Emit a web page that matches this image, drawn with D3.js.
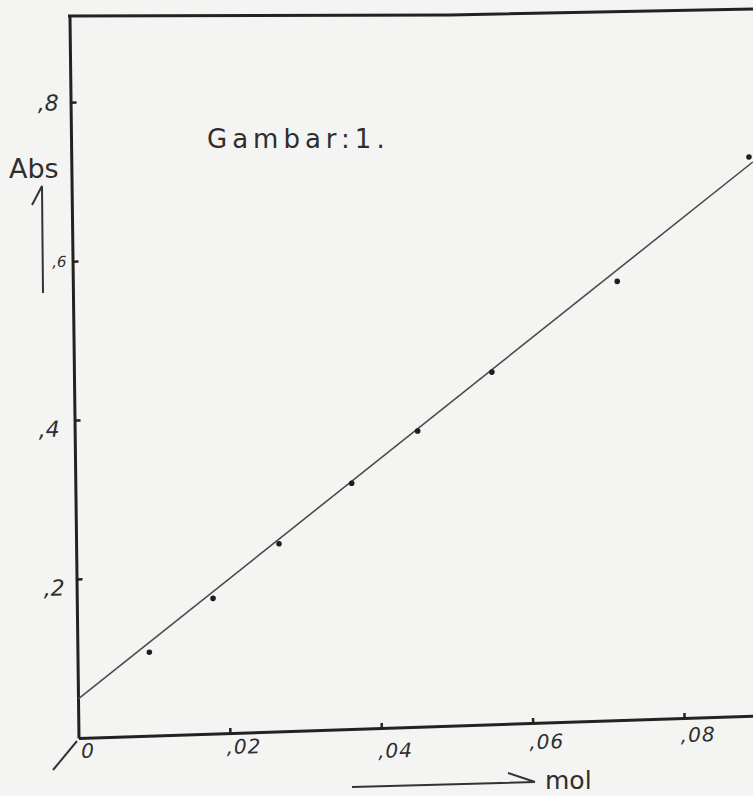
<!DOCTYPE html>
<html>
<head>
<meta charset="utf-8">
<script src="https://cdn.jsdelivr.net/npm/d3@7"></script>
<style>
  html, body { margin: 0; padding: 0; background: #f4f5f2; }
  svg { display: block; }
  text { font-family: "DejaVu Sans", sans-serif; fill: #2e2e2e; }
</style>
</head>
<body>
<div id="chart"></div>
<script>
// measured points (mol vs absorbance)
let molValues = [0.0095, 0.0180, 0.0268, 0.0365, 0.0453, 0.0552, 0.0719, 0.0895];
let absValues = [0.105, 0.170, 0.236, 0.309, 0.372, 0.443, 0.552, 0.703];

// hand drawn calibration line, two end points
let fitMol = [0, 0.090];
let fitAbs = [0.049, 0.6965];

let xTicks = [0, 0.02, 0.04, 0.06, 0.08];
let yTicks = [0.2, 0.4, 0.6, 0.8];

let svgWidth = 753;
let svgHeight = 796;

let svg = d3.select('#chart')
  .append('svg')
  .attr('width', svgWidth)
  .attr('height', svgHeight);

// scanned sheet is a little skewed, so the plot frame is too
let plot = svg.append('g')
  .attr('transform', 'matrix(1,-0.033,0.0125,1,78.5,738)');

let x = d3.scaleLinear().domain([0, 0.0905]).range([0, 685]);
let y = d3.scaleLinear().domain([0, 0.9085]).range([0, -722]);

// handwritten labels sit a bit unevenly under the axis
let xLabelDrop = { 0: 17, 0.02: 18, 0.04: 27, 0.06: 23, 0.08: 21 };

// x axis
let xAxis = d3.axisBottom(x)
  .tickValues(xTicks)
  .tickSize(-5)
  .tickSizeOuter(0)
  .tickFormat(d => d === 0 ? '0' : ',' + d.toFixed(2).slice(2));

let gx = plot.append('g').call(xAxis);
gx.select('.domain').attr('stroke', '#222').attr('stroke-width', 3);
gx.selectAll('.tick line').attr('stroke', '#222').attr('stroke-width', 2.5);
gx.selectAll('.tick text')
  .attr('text-anchor', 'start')
  .attr('dx', d => d === 0 ? 2 : -4)
  .attr('dy', d => xLabelDrop[d])
  .attr('font-size', 20)
  .attr('font-style', 'italic')
  .attr('letter-spacing', 1)
  .attr('fill', '#333');
gx.selectAll('.tick').filter(d => d === 0).select('line').remove();

// y axis
let yAxis = d3.axisLeft(y)
  .tickValues(yTicks)
  .tickSize(-6)
  .tickSizeOuter(0)
  .tickPadding(12)
  .tickFormat(d => ',' + d.toFixed(1).slice(2));

let gy = plot.append('g').call(yAxis);
gy.select('.domain').attr('stroke', '#222').attr('stroke-width', 3);
gy.selectAll('.tick line').attr('stroke', '#222').attr('stroke-width', 2.5);
gy.selectAll('.tick text')
  .attr('font-size', d => d === 0.6 ? 15 : 22)
  .attr('font-style', 'italic')
  .attr('dx', d => d === 0.6 ? 6 : (d === 0.4 ? -3 : 0))
  .attr('dy', d => d === 0.2 || d === 0.4 ? '0.7em' : '0.32em')
  .attr('fill', '#333');

// fitted line
let fit = d3.line()
  .x(d => x(d[0]))
  .y(d => y(d[1]));

plot.append('path')
  .datum(d3.zip(fitMol, fitAbs))
  .attr('d', fit)
  .attr('fill', 'none')
  .attr('stroke', '#4a4a4a')
  .attr('stroke-width', 1.6);

// points
plot.selectAll('circle')
  .data(d3.zip(molValues, absValues))
  .enter()
  .append('circle')
  .attr('cx', d => x(d[0]))
  .attr('cy', d => y(d[1]))
  .attr('r', 2.8)
  .attr('fill', '#1e1e1e');

// frame top edge and origin slash
svg.append('path')
  .attr('d', 'M68,16 L450,15 L753,9')
  .attr('fill', 'none')
  .attr('stroke', '#222')
  .attr('stroke-width', 3);

svg.append('path')
  .attr('d', 'M53,770 L77,741')
  .attr('stroke', '#333')
  .attr('stroke-width', 2);

// axis titles
svg.append('text')
  .attr('x', 9)
  .attr('y', 178)
  .attr('font-size', 27)
  .text('Abs');

svg.append('path')
  .attr('d', 'M32,205 L42,186 L43,293')
  .attr('fill', 'none')
  .attr('stroke', '#333')
  .attr('stroke-width', 2);

svg.append('text')
  .attr('x', 545)
  .attr('y', 789)
  .attr('font-size', 25)
  .text('mol');

svg.append('path')
  .attr('d', 'M352,787 L535,782 M508,773 L535,782')
  .attr('fill', 'none')
  .attr('stroke', '#333')
  .attr('stroke-width', 2);

svg.append('text')
  .attr('x', 207)
  .attr('y', 148)
  .attr('font-size', 26)
  .attr('letter-spacing', 5)
  .text('Gambar:1.');
</script>
</body>
</html>
